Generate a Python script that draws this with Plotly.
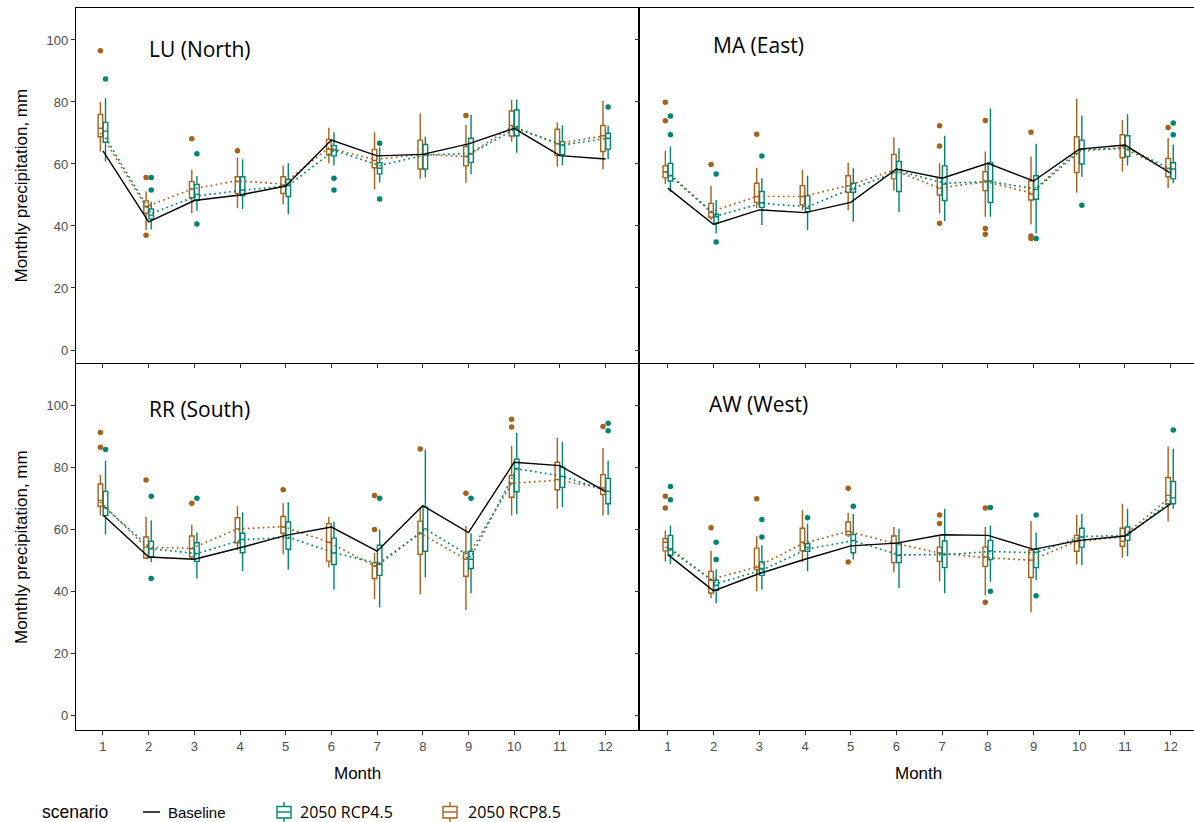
import plotly.graph_objects as go

# ---------------------------------------------------------------------------
# Monthly precipitation (mm): baseline vs. 2050 scenarios, four regions
# Box rows are (lower whisker, Q1, median, Q3, upper whisker) for months 1-12
# ---------------------------------------------------------------------------
MONTHS = list(range(1, 13))
TICKS_Y = [0, 20, 40, 60, 80, 100]

# LU (North)
LU_BASELINE = [64.2, 41.3, 48.2, 50.0, 52.9, 67.7, 62.6, 63.1, 66.5, 71.5, 62.7, 61.6]
LU_RCP85 = [(64.0, 68.8, 71.5, 76.0, 80.1), (38.7, 44.1, 46.2, 48.1, 51.1), (44.1, 49.1, 51.9, 54.3, 58.1),
            (45.7, 50.5, 54.3, 55.9, 62.1), (47.1, 50.5, 53.2, 55.9, 59.5), (60.2, 62.9, 64.7, 67.9, 71.7),
            (51.8, 58.8, 61.1, 64.7, 70.2), (55.2, 58.4, 63.1, 67.7, 76.3), (54.0, 59.4, 62.4, 65.6, 72.6),
            (67.2, 69.0, 72.4, 77.1, 80.6), (59.1, 62.7, 66.5, 71.2, 73.4), (58.3, 64.0, 69.1, 72.4, 80.3)]
LU_RCP85_MEAN = [70.0, 46.2, 51.9, 54.6, 53.5, 65.2, 61.4, 63.1, 62.4, 72.0, 66.6, 69.0]
LU_RCP85_OUT = [(1, 96.5), (2, 55.6), (2, 37.0), (3, 68.1), (4, 64.3), (9, 75.6)]
LU_RCP45 = [(60.8, 67.0, 70.6, 73.4, 81.2), (38.9, 42.3, 43.5, 45.5, 47.8), (44.9, 48.4, 50.2, 53.4, 56.1),
            (45.5, 49.8, 51.6, 55.9, 61.5), (43.8, 49.5, 53.0, 55.0, 60.2), (59.5, 62.6, 64.5, 65.9, 70.2),
            (54.0, 56.8, 58.6, 60.4, 65.4), (55.6, 58.4, 62.9, 66.3, 68.8), (56.7, 60.5, 63.2, 68.3, 75.8),
            (63.6, 69.1, 72.0, 77.4, 80.8), (59.5, 63.1, 66.1, 67.2, 72.4), (61.5, 64.8, 68.3, 69.9, 72.3)]
LU_RCP45_MEAN = [68.5, 44.0, 49.7, 51.5, 53.0, 64.4, 59.5, 62.9, 63.4, 71.6, 66.1, 68.3]
LU_RCP45_OUT = [(1, 87.4), (2, 55.6), (2, 51.6), (3, 63.3), (3, 40.6), (6, 55.4), (6, 51.6),
                (7, 66.7), (7, 48.7), (12, 78.4)]

# MA (East)
MA_BASELINE = [52.2, 40.5, 45.2, 44.3, 47.6, 58.4, 55.4, 60.2, 54.5, 64.8, 66.1, 57.0]
MA_RCP85 = [(53.5, 55.6, 57.5, 59.4, 64.3), (41.9, 42.8, 44.4, 47.3, 52.9), (45.7, 47.6, 49.5, 53.8, 58.8),
            (45.2, 46.8, 49.5, 53.0, 58.1), (45.0, 50.9, 53.0, 56.2, 60.4), (51.4, 55.2, 57.2, 63.1, 68.6),
            (44.1, 50.0, 52.2, 55.6, 60.2), (43.0, 51.4, 54.5, 57.5, 64.0), (40.5, 48.4, 50.3, 54.5, 62.4),
            (50.8, 57.2, 63.4, 68.8, 81.0), (57.5, 62.0, 65.6, 69.4, 74.2), (52.2, 55.9, 58.6, 61.8, 68.3)]
MA_RCP85_MEAN = [57.5, 44.6, 49.5, 49.5, 53.0, 58.0, 52.2, 54.3, 50.7, 64.0, 65.3, 58.0]
MA_RCP85_OUT = [(1, 79.9), (1, 73.9), (2, 59.8), (3, 69.6), (7, 72.3), (7, 65.8), (7, 40.9),
                (8, 74.0), (8, 39.2), (8, 37.3), (9, 70.2), (9, 36.8), (9, 36.0), (12, 71.8)]
MA_RCP45 = [(50.9, 54.5, 56.2, 60.2, 65.6), (37.6, 40.9, 43.0, 43.8, 48.4), (40.3, 46.0, 47.5, 51.1, 55.4),
            (38.7, 44.6, 45.7, 49.7, 56.2), (41.4, 50.9, 51.9, 53.8, 58.6), (44.4, 51.1, 58.1, 60.8, 65.1),
            (41.6, 48.2, 53.5, 59.4, 69.1), (43.0, 47.6, 54.5, 60.4, 77.9), (37.6, 48.6, 51.8, 56.2, 66.5),
            (55.9, 60.0, 64.7, 67.7, 75.5), (59.5, 62.4, 64.8, 69.1, 76.0), (53.8, 55.2, 58.4, 60.4, 66.3)]
MA_RCP45_MEAN = [56.5, 43.2, 47.3, 46.2, 52.2, 57.7, 53.8, 54.3, 51.9, 64.7, 65.0, 58.0]
MA_RCP45_OUT = [(1, 75.5), (1, 69.4), (2, 56.8), (2, 34.8), (3, 62.6), (9, 36.0), (10, 46.7),
                (12, 73.2), (12, 69.4)]

# RR (South)
RR_BASELINE = [64.8, 51.2, 50.5, 54.2, 58.2, 60.9, 53.1, 67.8, 59.1, 81.8, 80.7, 72.3]
RR_RCP85 = [(64.6, 67.6, 69.5, 74.8, 77.7), (50.5, 50.9, 54.4, 57.7, 64.1), (50.4, 51.2, 53.9, 58.0, 61.6),
            (53.4, 55.8, 60.3, 63.9, 67.6), (52.1, 58.9, 60.9, 64.3, 68.6), (47.8, 49.9, 56.0, 62.0, 64.1),
            (37.6, 44.3, 48.3, 49.4, 52.6), (39.1, 52.1, 58.9, 62.8, 67.3), (34.1, 45.0, 50.5, 52.8, 61.2),
            (64.6, 70.5, 75.0, 77.5, 87.1), (66.8, 72.9, 76.2, 81.8, 89.6), (64.6, 71.4, 73.5, 77.8, 86.4)]
RR_RCP85_MEAN = [69.0, 54.4, 54.0, 60.3, 61.0, 56.0, 48.3, 58.9, 50.5, 75.0, 76.0, 73.5]
RR_RCP85_OUT = [(1, 91.4), (1, 86.6), (2, 76.1), (3, 68.6), (5, 72.9), (7, 71.1), (7, 60.1),
                (8, 86.1), (9, 71.8), (10, 95.7), (10, 93.2), (12, 93.3)]
RR_RCP45 = [(58.5, 64.6, 67.1, 72.4, 82.3), (49.6, 51.2, 53.9, 56.3, 63.0), (44.3, 49.8, 52.3, 55.8, 59.1),
            (46.7, 52.6, 56.9, 58.9, 65.7), (47.2, 53.7, 57.3, 62.5, 68.9), (40.7, 48.8, 52.5, 57.3, 62.7),
            (34.9, 45.3, 48.9, 55.0, 60.1), (44.6, 53.1, 60.3, 67.3, 85.9), (39.5, 47.5, 50.5, 53.1, 58.9),
            (65.0, 72.3, 79.8, 82.8, 91.2), (67.3, 73.7, 77.2, 80.2, 88.4), (64.8, 68.4, 72.4, 76.6, 82.3)]
RR_RCP45_MEAN = [67.0, 53.9, 52.3, 56.8, 57.6, 52.6, 49.0, 60.3, 51.2, 79.7, 77.3, 72.4]
RR_RCP45_OUT = [(1, 85.9), (2, 70.8), (2, 44.3), (3, 70.2), (7, 70.2), (9, 70.2), (12, 94.4), (12, 92.0)]

# AW (West)
AW_BASELINE = [52.0, 40.3, 45.9, 50.5, 54.8, 55.7, 58.4, 58.2, 53.7, 56.6, 58.0, 68.4]
AW_RCP85 = [(49.8, 53.2, 56.0, 57.1, 59.8), (38.0, 39.6, 43.7, 46.6, 53.2), (40.2, 47.2, 48.0, 54.1, 57.9),
            (49.6, 53.2, 56.0, 60.5, 66.4), (57.7, 58.4, 59.5, 62.5, 65.5), (46.4, 49.4, 55.7, 58.0, 60.9),
            (43.4, 49.8, 52.5, 54.4, 58.0), (38.9, 48.2, 51.2, 54.4, 60.9), (33.3, 44.6, 50.2, 53.4, 62.8),
            (48.8, 53.1, 56.3, 58.2, 64.8), (51.0, 54.7, 56.3, 60.5, 68.4), (62.7, 68.4, 71.1, 76.9, 86.9)]
AW_RCP85_MEAN = [54.5, 44.0, 48.0, 55.5, 59.5, 55.7, 52.5, 51.0, 50.2, 56.3, 57.7, 70.0]
AW_RCP85_OUT = [(1, 70.8), (1, 67.0), (2, 60.7), (3, 70.0), (5, 73.4), (5, 49.6), (7, 64.8), (7, 62.0),
                (8, 67.0), (8, 36.6)]
AW_RCP45 = [(48.9, 51.8, 53.9, 58.2, 61.4), (36.4, 40.5, 42.1, 43.7, 47.3), (40.7, 45.3, 47.5, 49.6, 55.0),
            (46.6, 53.1, 54.4, 55.5, 62.0), (50.4, 52.6, 56.6, 58.5, 65.1), (41.1, 49.4, 51.8, 55.5, 60.3),
            (39.5, 47.8, 52.0, 56.4, 66.8), (43.2, 50.4, 53.2, 56.6, 61.4), (43.7, 47.8, 52.8, 53.7, 59.1),
            (48.6, 54.4, 57.7, 60.5, 65.1), (51.5, 56.6, 58.2, 60.9, 66.8), (66.8, 68.4, 70.3, 75.6, 86.1)]
AW_RCP45_MEAN = [53.9, 42.6, 47.0, 53.8, 56.5, 51.9, 52.0, 53.0, 52.6, 57.8, 58.2, 70.0]
AW_RCP45_OUT = [(1, 74.0), (1, 69.7), (2, 56.0), (2, 50.4), (3, 63.3), (3, 57.7), (4, 63.9), (5, 67.6),
                (8, 67.2), (8, 40.2), (9, 64.8), (9, 38.7), (12, 92.2)]

REGIONS = [
    ("LU (North)", "x", "y", LU_BASELINE, LU_RCP85, LU_RCP85_MEAN, LU_RCP85_OUT, LU_RCP45, LU_RCP45_MEAN, LU_RCP45_OUT),
    ("MA (East)", "x2", "y2", MA_BASELINE, MA_RCP85, MA_RCP85_MEAN, MA_RCP85_OUT, MA_RCP45, MA_RCP45_MEAN, MA_RCP45_OUT),
    ("RR (South)", "x3", "y3", RR_BASELINE, RR_RCP85, RR_RCP85_MEAN, RR_RCP85_OUT, RR_RCP45, RR_RCP45_MEAN, RR_RCP45_OUT),
    ("AW (West)", "x4", "y4", AW_BASELINE, AW_RCP85, AW_RCP85_MEAN, AW_RCP85_OUT, AW_RCP45, AW_RCP45_MEAN, AW_RCP45_OUT),
]

# ---------------------------------------------------------------------------
W, H = 1194, 822
TEAL = "#018571"
BROWN = "#a6611a"
DODGE = 0.056      # horizontal dodge of the two scenario boxes (month units)
BOX_W = 0.1
TICK_FONT = dict(family="Liberation Sans, Arial, sans-serif", size=13, color="#4d4d4d")
TEXT_FONT = "Liberation Sans, Arial, sans-serif"
TITLE_FONT = "Open Sans, Noto Sans, sans-serif"


def px(x):
    return x / W


def py(y):
    return 1 - y / H


fig = go.Figure()


def add_scenario(xa, ya, rows, means, outliers, color, offset):
    xs = [m + offset for m in MONTHS]
    fig.add_trace(go.Box(
        x=xs,
        lowerfence=[r[0] for r in rows], q1=[r[1] for r in rows], median=[r[2] for r in rows],
        q3=[r[3] for r in rows], upperfence=[r[4] for r in rows],
        width=BOX_W, whiskerwidth=0, boxpoints=False,
        line=dict(color=color, width=1.4), fillcolor="white",
        xaxis=xa, yaxis=ya, showlegend=False, hoverinfo="skip",
    ))
    fig.add_trace(go.Scatter(
        x=xs, y=means, mode="lines",
        line=dict(color=color, width=1.7, dash="1.7px,3.3px"),
        xaxis=xa, yaxis=ya, showlegend=False, hoverinfo="skip",
    ))
    fig.add_trace(go.Scatter(
        x=[m + offset for m, _ in outliers], y=[v for _, v in outliers], mode="markers",
        marker=dict(color=color, size=5.5, line=dict(width=0)),
        xaxis=xa, yaxis=ya, showlegend=False, hoverinfo="skip",
    ))


for name, xa, ya, base, r85, m85, o85, r45, m45, o45 in REGIONS:
    add_scenario(xa, ya, r85, m85, o85, BROWN, -DODGE)
    add_scenario(xa, ya, r45, m45, o45, TEAL, +DODGE)
    fig.add_trace(go.Scatter(
        x=MONTHS, y=base, mode="lines", line=dict(color="black", width=1.4),
        xaxis=xa, yaxis=ya, showlegend=False, hoverinfo="skip",
    ))

# ---------------------------------------------------------------------------
# Axes: 2 x 2 panel grid
LEFT_DOM = [px(76), px(638)]
RIGHT_DOM = [px(640), 1.0]
TOP_DOM = [py(363), py(8)]
BOT_DOM = [py(730), py(364)]

xbase = dict(showline=True, linecolor="black", linewidth=1.2, mirror=True,
             ticks="outside", ticklen=4, tickwidth=1, tickcolor="#333333",
             tickmode="array", tickvals=MONTHS, showgrid=False, zeroline=False,
             tickfont=TICK_FONT)
ybase = dict(showline=True, linecolor="black", linewidth=1.2,
             ticks="outside", ticklen=4, tickwidth=1, tickcolor="#333333",
             tickmode="array", tickvals=TICKS_Y, showgrid=False, zeroline=False,
             tickfont=TICK_FONT)

fig.update_layout(
    width=W, height=H, margin=dict(l=0, r=0, t=0, b=0),
    paper_bgcolor="white", plot_bgcolor="white", showlegend=False,
    xaxis=dict(xbase, domain=LEFT_DOM, range=[0.41, 12.71], anchor="y", showticklabels=False),
    xaxis2=dict(xbase, domain=RIGHT_DOM, range=[0.39, 12.51], anchor="y2", showticklabels=False),
    xaxis3=dict(xbase, domain=LEFT_DOM, range=[0.41, 12.71], anchor="y3"),
    xaxis4=dict(xbase, domain=RIGHT_DOM, range=[0.39, 12.51], anchor="y4"),
    yaxis=dict(ybase, domain=TOP_DOM, range=[-4.19, 110.3], anchor="x", mirror=True),
    yaxis2=dict(ybase, domain=TOP_DOM, range=[-4.19, 110.3], anchor="x2", showticklabels=False),
    yaxis3=dict(ybase, domain=BOT_DOM, range=[-4.6, 113.5], anchor="x3", mirror=True),
    yaxis4=dict(ybase, domain=BOT_DOM, range=[-4.6, 113.5], anchor="x4", showticklabels=False),
)

# ---------------------------------------------------------------------------
# Text: panel titles, axis titles
ann = []
for text, cx, cy in [("LU (North)", 200, 49), ("MA (East)", 758, 45),
                     ("RR (South)", 199, 409), ("AW (West)", 758, 404)]:
    ann.append(dict(text=text, x=px(cx), y=py(cy), xref="paper", yref="paper",
                    showarrow=False, xanchor="center", yanchor="middle",
                    font=dict(family=TITLE_FONT, size=21, color="black")))

for cy in [(8 + 363) / 2, (364 + 730) / 2]:
    ann.append(dict(text="Monthly precipitation, mm", x=px(21), y=py(cy), xref="paper", yref="paper",
                    showarrow=False, textangle=-90, xanchor="center", yanchor="middle",
                    font=dict(family=TEXT_FONT, size=17, color="black")))

for cx in [357, 918]:
    ann.append(dict(text="Month", x=px(cx), y=py(773), xref="paper", yref="paper",
                    showarrow=False, xanchor="center", yanchor="middle",
                    font=dict(family=TEXT_FONT, size=17, color="black")))

# Legend row
ann.append(dict(text="scenario", x=px(40), y=py(812), xref="paper", yref="paper", showarrow=False,
                xanchor="left", yanchor="middle", font=dict(family=TEXT_FONT, size=17.5, color="black")))
ann.append(dict(text="Baseline", x=px(166), y=py(812), xref="paper", yref="paper", showarrow=False,
                xanchor="left", yanchor="middle", font=dict(family=TEXT_FONT, size=15, color="black")))
ann.append(dict(text="2050 RCP4.5", x=px(298), y=py(812), xref="paper", yref="paper", showarrow=False,
                xanchor="left", yanchor="middle", font=dict(family=TITLE_FONT, size=16, color="black")))
ann.append(dict(text="2050 RCP8.5", x=px(466), y=py(812), xref="paper", yref="paper", showarrow=False,
                xanchor="left", yanchor="middle", font=dict(family=TITLE_FONT, size=16, color="black")))

shapes = [dict(type="line", xref="paper", yref="paper", x0=px(143), x1=px(160), y0=py(812), y1=py(812),
               line=dict(color="black", width=1.5))]
for cx, col in [(284, TEAL), (450, BROWN)]:
    shapes += [
        dict(type="line", xref="paper", yref="paper", x0=px(cx), x1=px(cx), y0=py(802), y1=py(822),
             line=dict(color=col, width=1.4)),
        dict(type="rect", xref="paper", yref="paper", x0=px(cx - 7), x1=px(cx + 7), y0=py(818), y1=py(806.5),
             line=dict(color=col, width=1.4), fillcolor="white"),
        dict(type="line", xref="paper", yref="paper", x0=px(cx - 7), x1=px(cx + 7), y0=py(812), y1=py(812),
             line=dict(color=col, width=1.4)),
    ]

fig.update_layout(annotations=ann, shapes=shapes)

fig.write_html("out.html")
